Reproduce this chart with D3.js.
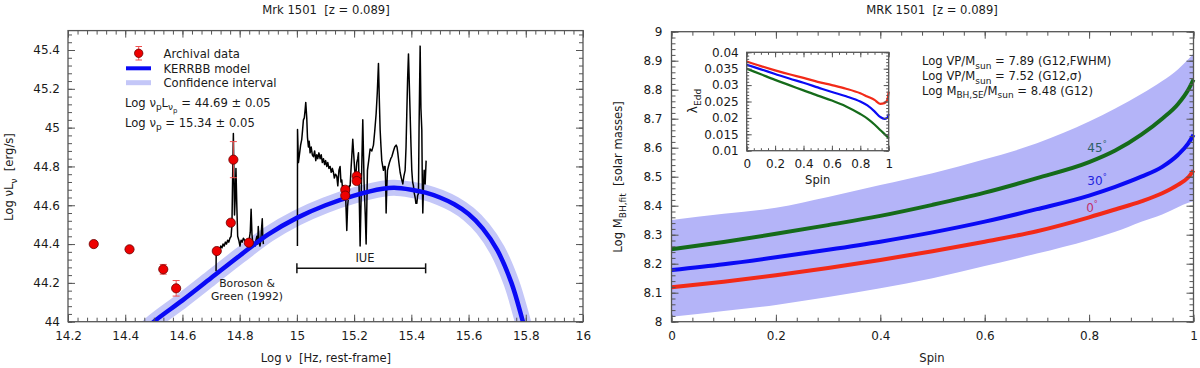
<!DOCTYPE html>
<html>
<head>
<meta charset="utf-8">
<script src="https://cdn.jsdelivr.net/npm/d3@7"></script>
<style>
  body { margin: 0; background: #fff; }
  svg text { font-family: "DejaVu Sans", sans-serif; fill: #1a1a1a; white-space: pre; }
</style>
</head>
<body>
<svg id="chart" width="1200" height="368"></svg>
<script>
// ---------- left panel: SED ----------
// archival photometry [log nu, log nuLnu, error]
const archNu  = [14.29, 14.415, 14.533, 14.578, 14.72, 14.769, 14.778, 14.832, 15.169, 15.169, 15.209, 15.209];
const archL   = [44.40, 44.373, 44.27, 44.172, 44.364, 44.51, 44.835, 44.407, 44.68, 44.65, 44.75, 44.725];
const archErr = [0.012, 0.006, 0.025, 0.04, 0.01, 0.01, 0.093, 0.008, 0.01, 0.02, 0.01, 0.01];

// KERRBB model curve
const modelNu = [14.45, 14.50, 14.60, 14.70, 14.80, 14.90, 15.00, 15.10, 15.20, 15.30, 15.34, 15.40, 15.45, 15.50, 15.55, 15.60, 15.65, 15.70, 15.75, 15.79, 15.83];
const modelL  = [43.93, 44.00, 44.11, 44.225, 44.34, 44.45, 44.535, 44.60, 44.65, 44.685, 44.69, 44.68, 44.665, 44.64, 44.605, 44.555, 44.48, 44.37, 44.20, 44.00, 43.78];

// Boroson & Green (1992) optical spectrum
const optSpec = [[14.7175,44.26],[14.7180,44.37],[14.722,44.36],[14.726,44.38],[14.730,44.37],[14.734,44.39],[14.738,44.38],
  [14.742,44.40],[14.746,44.39],[14.750,44.41],[14.754,44.40],[14.758,44.42],[14.762,44.41],[14.766,44.43],[14.770,44.44],
  [14.773,44.50],[14.776,44.80],[14.778,44.97],[14.780,44.75],[14.782,44.55],[14.784,44.62],[14.787,44.79],[14.790,44.60],
  [14.793,44.44],[14.797,44.42],[14.801,44.39],[14.805,44.42],[14.809,44.41],[14.813,44.43],[14.817,44.42],[14.821,44.41],
  [14.825,44.41],[14.829,44.40],[14.833,44.42],[14.837,44.46],[14.840,44.58],[14.843,44.45],[14.846,44.40],[14.850,44.41],
  [14.854,44.39],[14.857,44.42],[14.860,44.44],[14.863,44.40],[14.865,44.49],[14.868,44.41],[14.871,44.39],[14.874,44.42],
  [14.876,44.47],[14.879,44.53],[14.881,44.43],[14.883,44.40]];

// IUE UV spectrum
const iueSpec = [[15.0019,44.39],[15.0022,44.99],[15.0054,44.82],[15.0088,44.86],[15.013,44.91],[15.017,44.94],[15.020,44.99],
  [15.0228,45.04],[15.026,45.05],[15.0287,45.09],[15.031,45.13],[15.0345,45.05],[15.037,44.95],[15.0403,44.90],[15.043,44.93],
  [15.0462,44.87],[15.050,44.90],[15.054,44.86],[15.0578,44.85],[15.062,44.88],[15.066,44.83],[15.0695,44.86],[15.073,44.84],
  [15.077,44.87],[15.0811,44.84],[15.085,44.86],[15.089,44.82],[15.0928,44.84],[15.097,44.81],[15.1005,44.83],[15.1044,44.80],
  [15.108,44.82],[15.112,44.79],[15.1161,44.80],[15.120,44.77],[15.124,44.79],[15.1277,44.77],[15.131,44.74],[15.135,44.76],
  [15.1394,44.75],[15.143,44.70],[15.147,44.78],[15.151,44.80],[15.154,44.72],[15.1569,44.73],[15.160,44.68],[15.1627,44.70],
  [15.1685,44.68],[15.171,44.62],[15.1744,44.47],[15.1775,44.60],[15.1802,44.64],[15.1830,44.70],[15.1860,44.70],[15.1890,44.78],
  [15.1918,44.85],[15.1953,44.94],[15.2000,44.83],[15.203,44.76],[15.2058,44.75],[15.2093,44.82],[15.2125,44.84],[15.2152,44.87],
  [15.2185,44.60],[15.2210,44.39],[15.2245,44.64],[15.2275,44.85],[15.2303,45.04],[15.2330,44.85],[15.2350,44.71],[15.2390,44.55],
  [15.2420,44.40],[15.2445,44.60],[15.2466,44.78],[15.251,44.83],[15.2559,44.89],[15.262,44.88],[15.2676,44.91],[15.272,44.98],
  [15.2769,45.07],[15.2810,45.18],[15.2851,45.33],[15.2880,45.15],[15.2909,44.99],[15.2940,44.90],[15.2967,44.83],[15.3000,44.80],
  [15.3026,44.78],[15.3055,44.80],[15.3084,44.80],[15.3105,44.70],[15.3119,44.56],[15.3140,44.68],[15.3166,44.78],[15.320,44.80],
  [15.3236,44.82],[15.328,44.84],[15.3317,44.85],[15.3375,44.88],[15.342,44.90],[15.3469,44.91],[15.350,44.90],[15.3527,44.87],
  [15.3565,44.82],[15.3608,44.77],[15.365,44.74],[15.3702,44.71],[15.374,44.75],[15.3783,44.78],[15.3815,44.90],[15.3841,45.07],
  [15.3870,45.25],[15.3900,45.38],[15.3930,45.22],[15.3958,45.07],[15.3990,44.90],[15.4016,44.78],[15.4045,44.72],[15.4074,44.70],
  [15.4105,44.66],[15.4133,44.64],[15.4160,44.61],[15.4191,44.61],[15.4220,44.65],[15.4249,44.66],[15.4270,45.00],[15.4308,45.42],
  [15.4335,45.10],[15.4366,44.99],[15.4385,44.70],[15.4401,44.56],[15.4425,44.70],[15.4448,44.78],[15.4483,44.71],[15.4517,44.83]];

const iueRange = [15.0, 15.45];
const sedXTicks = [14.2, 14.4, 14.6, 14.8, 15, 15.2, 15.4, 15.6, 15.8, 16];
const sedYTicks = [44, 44.2, 44.4, 44.6, 44.8, 45, 45.2, 45.4];

// ---------- right panel: BH mass vs spin ----------
const spin     = [0, 0.1, 0.2, 0.3, 0.4, 0.5, 0.6, 0.7, 0.8, 0.85, 0.9, 0.94, 0.97, 0.99, 1.0];
const mass0    = [8.119, 8.138, 8.160, 8.185, 8.213, 8.243, 8.276, 8.312, 8.36, 8.387, 8.415, 8.443, 8.472, 8.498, 8.522];
const mass30   = [8.178, 8.198, 8.222, 8.248, 8.276, 8.308, 8.345, 8.388, 8.435, 8.465, 8.50, 8.534, 8.575, 8.615, 8.645];
const mass45   = [8.250, 8.275, 8.303, 8.333, 8.365, 8.403, 8.445, 8.495, 8.55, 8.59, 8.645, 8.70, 8.75, 8.80, 8.835];
const massHigh = [8.351, 8.372, 8.393, 8.43, 8.471, 8.512, 8.560, 8.615, 8.690, 8.735, 8.785, 8.83, 8.87, 8.905, 8.925];
const massLow  = [8.017, 8.037, 8.058, 8.085, 8.115, 8.150, 8.192, 8.235, 8.282, 8.31, 8.345, 8.37, 8.395, 8.41, 8.415];

// inset: Eddington ratio vs spin
const edd0  = [0.0372, 0.0358, 0.0345, 0.0333, 0.0322, 0.0310, 0.0300, 0.0289, 0.0275, 0.0265, 0.0255, 0.0243, 0.0245, 0.0255, 0.0280];
const edd30 = [0.0362, 0.0348, 0.0334, 0.0320, 0.0307, 0.0293, 0.0279, 0.0266, 0.0250, 0.0238, 0.0220, 0.0203, 0.0197, 0.0200, 0.0212];
const edd45 = [0.0350, 0.0333, 0.0316, 0.0300, 0.0284, 0.0268, 0.0253, 0.0235, 0.0212, 0.0198, 0.0180, 0.0163, 0.0151, 0.0143, 0.0137];

const spinTicks = [0, 0.2, 0.4, 0.6, 0.8, 1];
const massTicks = [8, 8.1, 8.2, 8.3, 8.4, 8.5, 8.6, 8.7, 8.8, 8.9, 9];
const eddTicks  = [0.01, 0.015, 0.02, 0.025, 0.03, 0.035, 0.04];

const RED = "#f22a18", BLUE = "#0a0af5", GREEN = "#156b1a";

const svg = d3.select("#chart");

// draws a boxed frame with inward ticks on all four sides
function frame(x, y, xMaj, xMinStep, yMaj, yMinStep, opt) {
  const g = svg.append("g");
  const [x0, x1] = x.range(), [y0, y1] = y.range();
  const xd = x.domain(), yd = y.domain();
  const xMin = d3.range(xd[0], xd[1] + 1e-9, xMinStep);
  const yMin = d3.range(yd[0], yd[1] + 1e-9, yMinStep);
  const big = opt.big || 7, small = opt.small || 4;
  const fmt = d => String(+d.toFixed(3));

  const mk = (axis, tr, vals, size, lab, pad) => {
    const a = axis.tickValues(vals).tickSize(-size).tickSizeOuter(0).tickPadding(pad || 0)
      .tickFormat(lab ? fmt : "");
    const s = g.append("g").attr("transform", tr).call(a);
    s.select(".domain").remove();
    s.selectAll(".tick line").attr("stroke", "#555").attr("stroke-width", 1);
    s.selectAll(".tick text").attr("font-size", opt.font || 12).attr("fill", "#1a1a1a")
      .attr("font-family", "DejaVu Sans, sans-serif");
    return s;
  };
  mk(d3.axisBottom(x), `translate(0,${y0})`, xMaj, big, true, opt.padX);
  mk(d3.axisBottom(x), `translate(0,${y0})`, xMin, small, false);
  mk(d3.axisTop(x), `translate(0,${y1})`, xMaj, big, false);
  mk(d3.axisTop(x), `translate(0,${y1})`, xMin, small, false);
  mk(d3.axisLeft(y), `translate(${x0},0)`, yMaj, big, true, opt.padY);
  mk(d3.axisLeft(y), `translate(${x0},0)`, yMin, small, false);
  mk(d3.axisRight(y), `translate(${x1},0)`, yMaj, big, false);
  mk(d3.axisRight(y), `translate(${x1},0)`, yMin, small, false);

  g.append("rect").attr("x", x0).attr("y", y1).attr("width", x1 - x0).attr("height", y0 - y1)
    .attr("fill", "none").attr("stroke", "#555").attr("stroke-width", 1.3);
  return g;
}

// text with sub/superscripts: parts = [[str, shift(px, + = down), size]]
function rich(x, y, parts, o) {
  o = o || {};
  const t = svg.append("text").attr("x", x).attr("y", y)
    .attr("font-size", o.size || 12).attr("text-anchor", o.anchor || "start");
  if (o.rotate) t.attr("transform", `rotate(-90,${x},${y})`);
  if (o.fill) t.attr("fill", o.fill);
  let cur = 0;
  parts.forEach(p => {
    const shift = p[1] || 0;
    const ts = t.append("tspan").text(p[0]).attr("dy", shift - cur);
    if (p[2]) ts.attr("font-size", p[2]);
    if (o.fill) ts.attr("fill", o.fill);
    cur = shift;
  });
  return t;
}

// ================= LEFT PANEL =================
const xL = d3.scaleLinear().domain([14.2, 16]).range([68, 583]);
const yL = d3.scaleLinear().domain([44, 45.5]).range([321.7, 30.6]);

svg.append("clipPath").attr("id", "clipL").append("rect")
  .attr("x", 68).attr("y", 30.6).attr("width", 515).attr("height", 291.1);
const gL = svg.append("g").attr("clip-path", "url(#clipL)");

const modelLine = d3.line().x((d, i) => xL(modelNu[i])).y(d => yL(d)).curve(d3.curveCatmullRom);
gL.append("path").attr("d", modelLine(modelL)).attr("fill", "none")
  .attr("stroke", "#c4c7f8").attr("stroke-width", 16);

const specLine = d3.line().x(d => xL(d[0])).y(d => yL(d[1]));
[optSpec, iueSpec].forEach(s => {
  gL.append("path").attr("d", specLine(s)).attr("fill", "none")
    .attr("stroke", "#000").attr("stroke-width", 1.5).attr("stroke-linejoin", "round");
});

gL.append("path").attr("d", modelLine(modelL)).attr("fill", "none")
  .attr("stroke", BLUE).attr("stroke-width", 4.5);

// archival points with error bars
archNu.forEach((nu, i) => {
  const cx = xL(nu), lo = yL(archL[i] - archErr[i]), hi = yL(archL[i] + archErr[i]);
  const e = gL.append("g").attr("stroke", "#f05050").attr("stroke-width", 1);
  e.append("line").attr("x1", cx).attr("x2", cx).attr("y1", lo).attr("y2", hi);
  e.append("line").attr("x1", cx - 3.5).attr("x2", cx + 3.5).attr("y1", lo).attr("y2", lo);
  e.append("line").attr("x1", cx - 3.5).attr("x2", cx + 3.5).attr("y1", hi).attr("y2", hi);
});
archNu.forEach((nu, i) => {
  gL.append("circle").attr("cx", xL(nu)).attr("cy", yL(archL[i])).attr("r", 4.6)
    .attr("fill", "#ee0000").attr("stroke", "#6a0000").attr("stroke-width", 0.8);
});

// IUE bracket
const iy = yL(44.275);
const ib = svg.append("g").attr("stroke", "#111").attr("stroke-width", 1.5);
ib.append("line").attr("x1", xL(iueRange[0])).attr("x2", xL(iueRange[1])).attr("y1", iy).attr("y2", iy);
iueRange.forEach(v => ib.append("line").attr("x1", xL(v)).attr("x2", xL(v)).attr("y1", iy - 5).attr("y2", iy + 5));
svg.append("text").attr("x", 365).attr("y", 262).attr("text-anchor", "middle").attr("font-size", 11.5).text("IUE");

svg.append("text").attr("x", 247).attr("y", 287).attr("text-anchor", "middle").attr("font-size", 10.8).text("Boroson &");
svg.append("text").attr("x", 247).attr("y", 300).attr("text-anchor", "middle").attr("font-size", 10.8).text("Green (1992)");

frame(xL, yL, sedXTicks, 0.2 / 6, sedYTicks, 0.04, { padX: 10, padY: 8 });

// legend
const lg = svg.append("g");
lg.append("line").attr("x1", 138.7).attr("x2", 138.7).attr("y1", 46.5).attr("y2", 60)
  .attr("stroke", "#f05050").attr("stroke-width", 1);
[46.5, 60].forEach(v => lg.append("line").attr("x1", 135.5).attr("x2", 142).attr("y1", v).attr("y2", v)
  .attr("stroke", "#f05050").attr("stroke-width", 1));
lg.append("circle").attr("cx", 138.7).attr("cy", 53.3).attr("r", 4.2)
  .attr("fill", "#ee0000").attr("stroke", "#6a0000").attr("stroke-width", 0.8);
lg.append("line").attr("x1", 126).attr("x2", 151).attr("y1", 68.3).attr("y2", 68.3)
  .attr("stroke", BLUE).attr("stroke-width", 4);
lg.append("line").attr("x1", 126).attr("x2", 151).attr("y1", 82.7).attr("y2", 82.7)
  .attr("stroke", "#c4c7f8").attr("stroke-width", 5);
[["Archival data", 57.5], ["KERRBB model", 72.5], ["Confidence interval", 87]].forEach(d => {
  svg.append("text").attr("x", 163.5).attr("y", d[1]).attr("font-size", 11.6).text(d[0]);
});
rich(125, 106.5, [["Log ν"], ["p", 3.5, 9], ["L"], ["ν", 3.5, 9], ["p", 6.5, 7], [" = 44.69 ± 0.05", 0]], { size: 11.6 });
rich(125, 126.5, [["Log ν"], ["p", 3.5, 9], [" = 15.34 ± 0.05", 0]], { size: 11.6 });

// titles and axis labels
svg.append("text").attr("x", 326).attr("y", 13.5).attr("text-anchor", "middle").attr("font-size", 11.6)
  .text("Mrk 1501  [z = 0.089]");
rich(326, 362, [["Log ν  [Hz, rest-frame]"]], { size: 11.6, anchor: "middle" });
rich(13, 177, [["Log νL"], ["ν", 3.5, 9], ["  [erg/s]", 0]], { size: 11.6, anchor: "middle", rotate: true });

// ================= RIGHT PANEL =================
const xR = d3.scaleLinear().domain([0, 1]).range([671.5, 1193.5]);
const yR = d3.scaleLinear().domain([8, 9]).range([321.7, 31.7]);

const band = d3.area().x((d, i) => xR(spin[i])).y0((d, i) => yR(massLow[i])).y1(d => yR(d))
  .curve(d3.curveMonotoneX);
svg.append("path").attr("d", band(massHigh)).attr("fill", "#b4b4f8");

const mLine = d3.line().x((d, i) => xR(spin[i])).y(d => yR(d)).curve(d3.curveMonotoneX);
[[mass45, GREEN], [mass30, BLUE], [mass0, RED]].forEach(c => {
  svg.append("path").attr("d", mLine(c[0])).attr("fill", "none")
    .attr("stroke", c[1]).attr("stroke-width", 4);
});

frame(xR, yR, spinTicks, 0.04, massTicks, 0.02, { padX: 10, padY: 9 });

rich(1097, 152, [["45"], ["°", -5, 8], ["", 0]], { size: 12, anchor: "middle", fill: "#2d5f66" });
rich(1097, 185, [["30"], ["°", -5, 8], ["", 0]], { size: 12, anchor: "middle", fill: "#2323e0" });
rich(1092, 211.5, [["0"], ["°", -5, 8], ["", 0]], { size: 12, anchor: "middle", fill: "#c2306a" });

rich(922, 65, [["Log VP/M"], ["sun", 3.5, 9], [" = 7.89 (G12,FWHM)", 0]], { size: 11.6 });
rich(922, 80, [["Log VP/M"], ["sun", 3.5, 9], [" = 7.52 (G12,σ)", 0]], { size: 11.6 });
rich(922, 94.5, [["Log M"], ["BH,SE", 3.5, 9], ["/M", 0], ["sun", 3.5, 9], [" = 8.48 (G12)", 0]], { size: 11.6 });

// inset
const xI = d3.scaleLinear().domain([0, 1]).range([746.7, 888.7]);
const yI = d3.scaleLinear().domain([0.01, 0.04]).range([150.7, 52.3]);
svg.append("rect").attr("x", 746.7).attr("y", 52.3).attr("width", 142).attr("height", 98.4).attr("fill", "#fff");
const eLine = d3.line().x((d, i) => xI(spin[i])).y(d => yI(d)).curve(d3.curveMonotoneX);
[[edd45, GREEN], [edd30, BLUE], [edd0, RED]].forEach(c => {
  svg.append("path").attr("d", eLine(c[0])).attr("fill", "none")
    .attr("stroke", c[1]).attr("stroke-width", 2.2);
});
frame(xI, yI, spinTicks, 0.05, eddTicks, 0.001, { padX: 9, padY: 8, big: 5, small: 2.5 });
svg.append("text").attr("x", 817.7).attr("y", 184).attr("text-anchor", "middle").attr("font-size", 11.6).text("Spin");
rich(697, 101, [["λ"], ["Edd", 3.5, 9], ["", 0]], { size: 12, anchor: "middle", rotate: true });

svg.append("text").attr("x", 932).attr("y", 13.5).attr("text-anchor", "middle").attr("font-size", 11.6)
  .text("MRK 1501  [z = 0.089]");
svg.append("text").attr("x", 932).attr("y", 362).attr("text-anchor", "middle").attr("font-size", 11.6).text("Spin");
rich(622, 177, [["Log M"], ["BH,fit", 3.5, 9], ["  [solar masses]", 0]], { size: 11.6, anchor: "middle", rotate: true });
</script>
</body>
</html>
